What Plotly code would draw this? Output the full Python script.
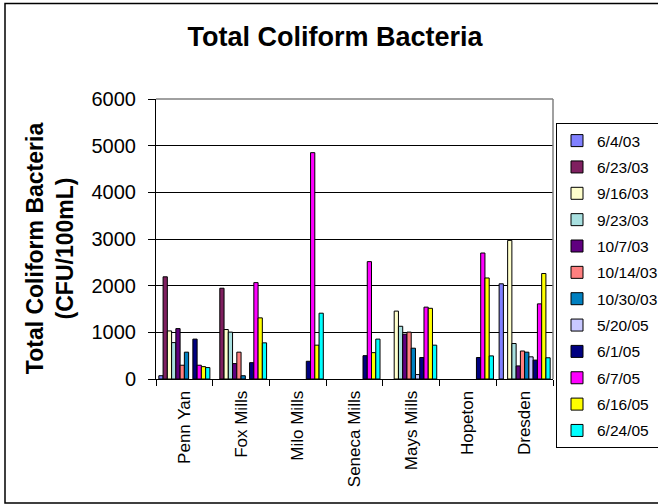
import plotly.graph_objects as go

W, H = 658, 504
# plot-area pixel box
PL, PR, PT, PB = 156, 553, 99, 378.7

categories = ["Penn Yan", "Fox Mills", "Milo Mills", "Seneca Mills", "Mays Mills", "Hopeton", "Dresden"]

series_names = ["6/4/03", "6/23/03", "9/16/03", "9/23/03", "10/7/03", "10/14/03",
                "10/30/03", "5/20/05", "6/1/05", "6/7/05", "6/16/05", "6/24/05"]

v_060403 = [70, None, None, None, None, None, 2040]
v_062303 = [2190, 1945, None, None, None, None, None]
v_091603 = [1030, 1060, None, None, 1455, None, 2970]
v_092303 = [780, 1005, None, None, 1130, None, 760]
v_100703 = [1080, 330, None, None, 960, None, 280]
v_101403 = [295, 575, None, None, 1005, None, 600]
v_103003 = [575, 70, None, None, 660, None, 575]
v_052005 = [None, None, None, None, 95, None, 475]
v_060105 = [855, 350, 380, 500, 460, 460, 405]
v_060705 = [295, 2065, 4850, 2515, 1540, 2700, 1610]
v_061605 = [265, 1310, 725, 565, 1515, 2165, 2260]
v_062405 = [245, 775, 1410, 855, 725, 495, 455]

series_values = [v_060403, v_062303, v_091603, v_092303, v_100703, v_101403,
                 v_103003, v_052005, v_060105, v_060705, v_061605, v_062405]

colors = ["#8080FF", "#7F2060", "#FFFFCC", "#A8E0E0", "#600080", "#FF8080",
          "#0080C0", "#C8C8FF", "#000080", "#FF00FF", "#FFFF00", "#00FFFF"]

y_ticks = [0, 1000, 2000, 3000, 4000, 5000, 6000]

FONT = "Liberation Sans, Arial, sans-serif"

fig = go.Figure()
for name, vals, col in zip(series_names, series_values, colors):
    fig.add_trace(go.Bar(
        x=categories, y=vals, name=name, legendgroup=name,
        marker=dict(color=col, line=dict(color="black", width=1)),
    ))

pw = PR - PL
ph = PB - PT


def px_x(x):
    return (x - PL) / pw


def px_y(y):
    return (PB - y) / ph


fig.update_layout(
    width=W, height=H,
    margin=dict(l=PL, r=W - PR, t=PT, b=H - PB, pad=0, autoexpand=False),
    paper_bgcolor="white", plot_bgcolor="white",
    barmode="group", bargap=0.1, bargroupgap=0,
    font=dict(family=FONT, color="black"),
    title=dict(text="<b>Total Coliform Bacteria</b>", x=335 / W, xanchor="center",
               y=1 - 37 / H, yanchor="middle", yref="container",
               font=dict(size=27, family=FONT, color="black")),
    showlegend=True,
    legend=dict(x=px_x(556), xanchor="left", y=px_y(123), yanchor="top",
                bgcolor="white", bordercolor="black", borderwidth=1,
                font=dict(size=15.5, family=FONT, color="black"),
                traceorder="grouped", tracegroupgap=3.2, itemwidth=30,
                maxheight=340),
    xaxis=dict(type="category", showline=True, linecolor="black", linewidth=1,
               ticks="outside", ticklen=6, tickcolor="black", tickson="boundaries",
               tickangle=-90, tickfont=dict(size=17, family=FONT, color="black"),
               showgrid=False, zeroline=False, ticklabelstandoff=4),
    yaxis=dict(range=[0, 6000], tickvals=y_ticks, ticktext=[str(t) for t in y_ticks],
               showline=True, linecolor="black", linewidth=1,
               ticks="outside", ticklen=7, tickcolor="black",
               tickfont=dict(size=20, family=FONT, color="black"),
               showgrid=True, gridcolor="black", gridwidth=1, zeroline=False,
               ticklabelstandoff=8),
    annotations=[dict(
        text="<b>Total Coliform Bacteria<br>(CFU/100mL)</b>",
        xref="paper", yref="paper", x=px_x(50), y=px_y(248),
        xanchor="center", yanchor="middle", textangle=-90, showarrow=False,
        font=dict(size=23, family=FONT, color="black"),
    )],
    shapes=[
        dict(type="line", xref="paper", yref="paper", x0=0, x1=1, y0=1, y1=1,
             line=dict(color="#808080", width=1.5), layer="above"),
        dict(type="line", xref="paper", yref="paper", x0=1, x1=1, y0=0, y1=1,
             line=dict(color="#808080", width=1.5), layer="above"),
        dict(type="rect", xref="paper", yref="paper",
             x0=px_x(5), x1=px_x(720), y0=px_y(502.5), y1=px_y(3.5),
             line=dict(color="black", width=1.5), fillcolor="rgba(0,0,0,0)", layer="below"),
    ],
)

fig.write_html("out.html", config={"displayModeBar": False},
               post_script="document.body.style.margin='0';document.body.style.overflow='hidden';")
